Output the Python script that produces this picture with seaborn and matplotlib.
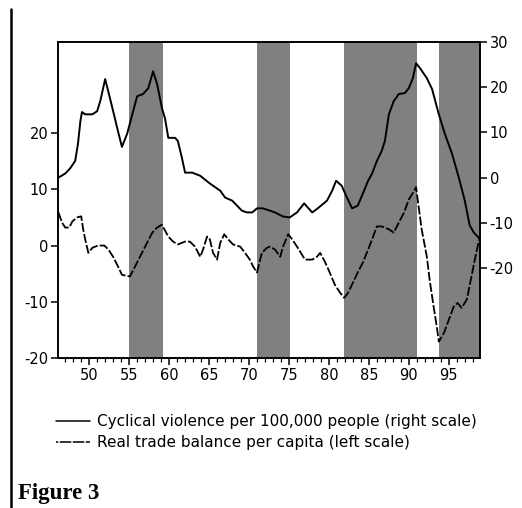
import numpy as np
import pandas as pd
import matplotlib
matplotlib.use("Agg")
import matplotlib.pyplot as plt
from matplotlib.lines import Line2D
from matplotlib.ticker import MultipleLocator
import seaborn as sns

# cyclical violence per 100,000 people (right scale)
violence_year = [46.15, 47.0, 47.6, 48.25, 48.6, 48.9, 49.1, 49.5, 50.4, 51.0, 51.4, 52.0,
                 52.4, 53.0, 53.6, 54.1, 54.75, 55.4, 56.0, 56.75, 57.4, 58.0, 58.5, 59.1,
                 59.5, 59.9, 60.75, 61.1, 61.6, 62.0, 62.9, 63.9, 65.1, 66.4, 67.0, 67.9,
                 69.1, 69.75, 70.4, 71.0, 71.75, 72.6, 73.25, 74.25, 75.1, 76.0, 76.9, 77.9,
                 78.6, 79.75, 80.4, 80.9, 81.6, 82.25, 82.9, 83.6, 84.25, 84.9, 85.4, 86.0,
                 86.6, 87.0, 87.5, 88.1, 88.75, 89.5, 90.0, 90.5, 90.9, 91.4, 92.25, 92.9,
                 93.75, 94.5, 95.4, 96.25, 97.0, 97.6, 98.1, 98.9]
violence = [0.0, 0.9, 2.0, 3.7, 7.5, 12.5, 14.5, 14.0, 14.0, 14.7, 17.0, 21.8,
            19.0, 14.7, 10.3, 6.8, 9.7, 14.0, 18.0, 18.5, 19.8, 23.5, 20.7, 15.4,
            13.0, 8.8, 8.8, 8.1, 4.4, 1.1, 1.1, 0.4, -1.3, -2.9, -4.4, -5.1,
            -7.3, -7.7, -7.7, -6.8, -6.8, -7.3, -7.7, -8.6, -8.8, -7.7, -5.7, -7.7,
            -6.8, -5.1, -2.9, -0.7, -1.8, -4.4, -6.8, -6.2, -3.5, -0.7, 0.9, 3.7,
            5.9, 8.1, 14.0, 16.9, 18.5, 18.7, 19.8, 22.0, 25.3, 24.2, 22.0, 19.6,
            14.0, 9.7, 5.3, 0.0, -5.1, -10.5, -12.1, -13.6]

# real trade balance per capita (left scale)
trade_year = [46.15, 46.6, 47.0, 47.5, 47.9, 48.5, 49.0, 49.25, 49.5, 49.9, 50.4, 51.1,
              51.9, 52.4, 53.0, 53.6, 54.1, 54.75, 55.1, 55.75, 56.6, 57.25, 57.9, 58.5,
              59.1, 59.9, 60.5, 61.1, 62.0, 62.6, 63.25, 63.9, 64.25, 64.75, 65.1, 65.5,
              66.0, 66.4, 66.9, 67.4, 68.0, 68.9, 69.5, 70.1, 70.5, 71.0, 71.6, 72.25,
              72.6, 73.25, 73.9, 74.25, 74.9, 75.4, 76.1, 77.0, 77.9, 78.5, 78.9, 79.5,
              80.1, 80.75, 81.4, 81.9, 82.4, 83.0, 83.6, 84.25, 84.9, 85.4, 86.0, 86.6,
              87.5, 88.1, 88.75, 89.4, 90.0, 90.6, 90.9, 91.1, 91.6, 92.25, 92.6, 93.1,
              93.5, 93.75, 94.4, 95.0, 95.6, 96.1, 96.6, 97.25, 97.75, 98.25, 98.6, 98.9]
trade = [5.9, 4.1, 3.2, 3.2, 4.3, 5.0, 5.2, 2.9, 1.1, -1.3, -0.4, 0.0,
         0.0, -0.7, -2.0, -3.7, -5.2, -5.4, -5.5, -3.7, -1.3, 0.5, 2.3, 3.2,
         3.7, 1.6, 0.7, 0.2, 0.7, 0.7, -0.2, -2.0, -0.7, 1.6, 1.1, -1.3,
         -2.5, 0.5, 2.0, 1.1, 0.2, -0.2, -1.3, -2.5, -3.7, -4.8, -1.3, -0.4,
         -0.2, -0.7, -2.0, -0.2, 2.0, 1.1, -0.4, -2.5, -2.5, -2.0, -1.3, -2.9,
         -4.8, -7.0, -8.4, -9.3, -8.4, -6.6, -4.8, -3.0, -0.7, 1.1, 3.4, 3.4,
         2.9, 2.3, 4.1, 5.9, 8.2, 9.6, 10.4, 8.2, 2.9, -2.0, -6.1, -10.9,
         -14.5, -17.1, -15.5, -13.2, -10.9, -10.2, -11.1, -9.6, -6.1, -2.5, -0.2, 1.6]

# shaded periods
shade_start = [55.0, 71.0, 81.9, 93.75]
shade_end = [59.2, 75.1, 91.0, 99.5]

left_ticks = [-20, -10, 0, 10, 20]
right_ticks = [-20, -10, 0, 10, 20, 30]
x_ticks = [50, 55, 60, 65, 70, 75, 80, 85, 90, 95]

df_v = pd.DataFrame({"year": violence_year, "value": violence})
df_t = pd.DataFrame({"year": trade_year, "value": trade})

sns.set_style("ticks")
plt.rcParams['font.family'] = ['DejaVu Sans']
plt.rcParams['text.color'] = 'black'
plt.rcParams['xtick.color'] = 'black'
plt.rcParams['ytick.color'] = 'black'
plt.rcParams['axes.unicode_minus'] = False

fig = plt.figure(figsize=(5.22, 5.08), dpi=100)
ax = fig.add_axes([58/522, 1 - 358/508, (480-58)/522, (358-42)/508])
ax2 = ax.twinx()

for s, e in zip(shade_start, shade_end):
    ax.axvspan(s, e, color="#808080", lw=0, zorder=0)

sns.lineplot(data=df_t, x="year", y="value", ax=ax, color="black", lw=1.3,
             dashes=False, zorder=3)
ax.lines[-1].set_dashes((5, 1.2))
sns.lineplot(data=df_v, x="year", y="value", ax=ax2, color="black", lw=1.4, zorder=3)

ax.set_xlim(46.1, 98.9)
ax.set_ylim(-20, 36.2)
ax2.set_ylim(-39.9, 30)
ax.set_xticks(x_ticks)
ax.set_xticklabels([str(t) for t in x_ticks])
ax.xaxis.set_minor_locator(MultipleLocator(1))
ax.set_yticks(left_ticks)
ax2.set_yticks(right_ticks)
ax.set_xlabel("")
ax.set_ylabel("")
ax2.set_ylabel("")

for a in (ax, ax2):
    for sp in a.spines.values():
        sp.set_visible(True)
        sp.set_linewidth(1.2)
        sp.set_color("black")
    a.tick_params(axis="both", which="major", length=5, width=1.1, labelsize=10.5,
                  direction="out", pad=2, colors="black")
    a.tick_params(axis="x", which="minor", length=3, width=0.9, direction="out")

# legend
h1 = Line2D([], [], color="black", lw=1.1)
h2 = Line2D([], [], color="black", lw=1.1, dashes=(1.5, 1, 6, 0))
fig.legend([h1, h2],
           ["Cyclical violence per 100,000 people (right scale)",
            "Real trade balance per capita (left scale)"],
           loc="upper left", bbox_to_anchor=(56/522, 1 - 414/508),
           frameon=False, fontsize=11, handlelength=2.2, handletextpad=0.5,
           labelspacing=0.4, borderpad=0, borderaxespad=0, labelcolor="black")

fig.text(18/522, 1 - 494/508, "Figure 3", fontsize=16.5, fontweight="bold",
         family=["Liberation Serif", "DejaVu Serif"], va="center", ha="left",
         color="black")

fig.add_artist(Line2D([11/522, 11/522], [0, 1 - 9/508], transform=fig.transFigure,
                      color="black", lw=1.8))

fig.savefig("out.png", dpi=100)
